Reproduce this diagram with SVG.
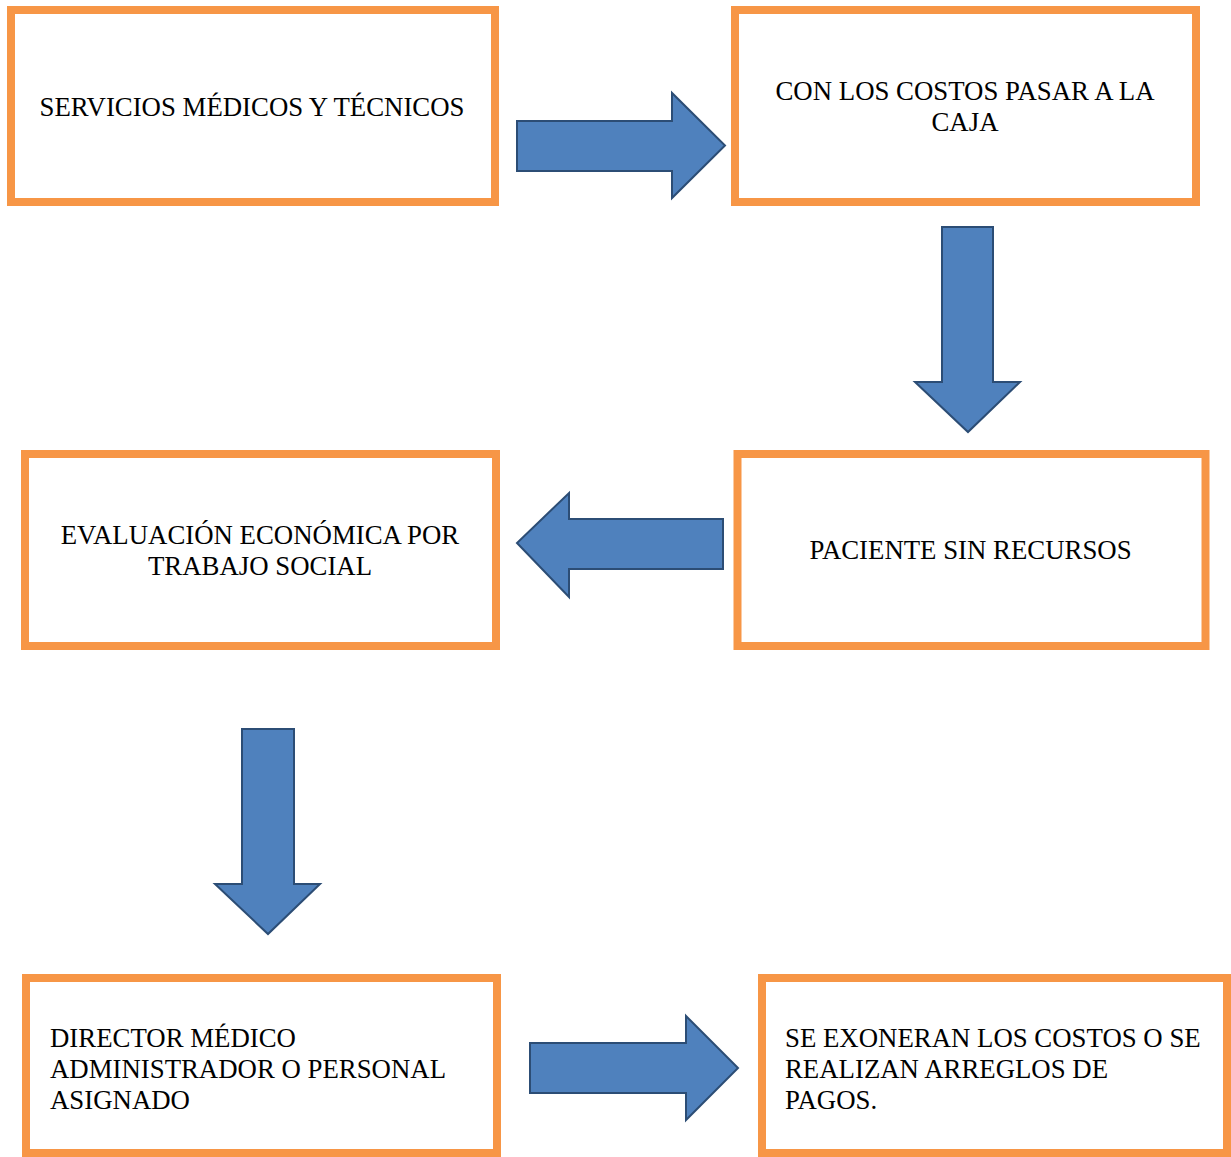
<svg xmlns="http://www.w3.org/2000/svg" width="1231" height="1157" viewBox="0 0 1231 1157">
<style>
.box{fill:#fff;stroke:#F79646;stroke-width:8}
.arr{fill:#4F81BD;stroke:#2C4D75;stroke-width:2;stroke-linejoin:miter}
.t{font-family:'Liberation Serif','Times New Roman',Times,serif;font-size:26.8px;fill:#000}
.c{text-anchor:middle}
</style>
<rect width="1231" height="1157" fill="#fff"/>
<g id="n1"><rect class="box" x="11" y="10" width="484" height="192"/><text class="t c" x="252" y="116">SERVICIOS MÉDICOS Y TÉCNICOS</text></g>
<g id="n2"><rect class="box" x="735" y="10" width="461" height="192"/><text class="t c" x="965" y="100">CON LOS COSTOS PASAR A LA</text><text class="t c" x="965" y="131">CAJA</text></g>
<g id="n3"><rect class="box" x="737.5" y="454" width="468" height="192"/><text class="t c" x="970.5" y="559">PACIENTE SIN RECURSOS</text></g>
<g id="n4"><rect class="box" x="25" y="454" width="471" height="192"/><text class="t c" x="260" y="544">EVALUACIÓN ECONÓMICA POR</text><text class="t c" x="260" y="575">TRABAJO SOCIAL</text></g>
<g id="n5"><rect class="box" x="26" y="978" width="471" height="175"/><text class="t" x="50" y="1047">DIRECTOR MÉDICO</text><text class="t" x="50" y="1078">ADMINISTRADOR O PERSONAL</text><text class="t" x="50" y="1109">ASIGNADO</text></g>
<g id="n6"><rect class="box" x="762" y="978" width="465" height="175"/><text class="t" x="785" y="1047">SE EXONERAN LOS COSTOS O SE</text><text class="t" x="785" y="1078">REALIZAN ARREGLOS DE</text><text class="t" x="785" y="1109">PAGOS.</text></g>
<g id="connectors">
<polygon class="arr" points="517,121 672,121 672,93 725,145.5 672,198 672,171 517,171"/>
<polygon class="arr" points="942,227 993,227 993,382 1020,382 968,432 915,382 942,382"/>
<polygon class="arr" points="723,519 569,519 569,493 517,543 569,597 569,569 723,569"/>
<polygon class="arr" points="242,729 294,729 294,884 320,884 268,934 215,884 242,884"/>
<polygon class="arr" points="530,1043 686,1043 686,1016 738,1068 686,1120 686,1093 530,1093"/>
</g>
</svg>
